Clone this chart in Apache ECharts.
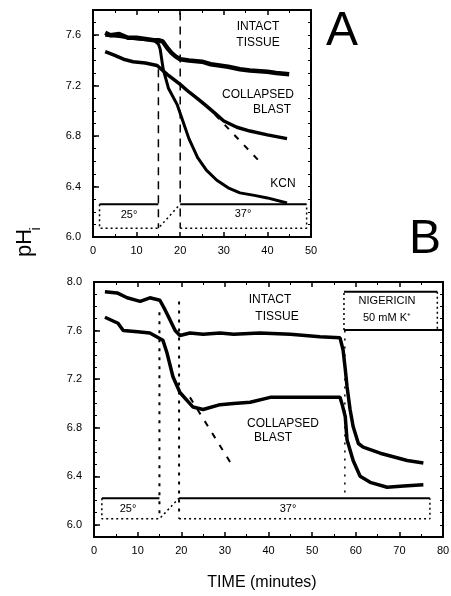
<!DOCTYPE html>
<html><head><meta charset="utf-8">
<script src="https://cdn.jsdelivr.net/npm/echarts@6/dist/echarts.min.js"></script>
<style>html,body{margin:0;padding:0;background:#fff}#c{width:451px;height:596px}</style>
</head><body><div id="c"></div>
<script>
// ---------- Panel A data (time in minutes, pHi) ----------
const aIntact = [[2.8,7.62],[4,7.60],[6,7.61],[8,7.58],[10,7.58],[12,7.57],[14,7.56],[15,7.56],[16,7.55],[17,7.50],[18,7.46],[19,7.43],[20,7.41],[22,7.40],[25,7.39],[27,7.37],[29,7.36],[31,7.35],[33.7,7.33],[36,7.32],[40,7.31],[42,7.30],[45,7.29]];
const aKcn = [[2.8,7.60],[6,7.59],[10,7.57],[14,7.56],[15,7.53],[15.4,7.49],[16.1,7.33],[17.3,7.18],[19.3,7.05],[20.6,6.92],[22,6.78],[24,6.63],[26,6.53],[28.4,6.45],[31,6.39],[33.7,6.35],[37,6.33],[40,6.31],[44.5,6.27]];
const aCollapsed = [[2.8,7.47],[5,7.44],[7,7.41],[9.2,7.39],[12,7.38],[14.7,7.36],[16,7.32],[17,7.29],[20,7.21],[22,7.15],[23.9,7.10],[26,7.04],[28,6.98],[30,6.92],[33,6.87],[36,6.84],[40,6.81],[44.5,6.78]];
const aExtrap = [[28,6.97],[39,6.57]];
const aGuide15 = [[15,7.33],[15,6.07]];
const aGuide20 = [[20,7.78],[20,6.07]];
const aTempTop = [[1.5,6.26],[15,6.26],null,[20,6.26],[49,6.26]];
const aTempDotted = [[1.5,6.26],[1.5,6.07],[15,6.07],[20,6.26],null,[20,6.07],[49,6.07],[49,6.26]];

// ---------- Panel B data ----------
const bIntact = [[2.5,7.92],[5.3,7.91],[7.6,7.87],[10.6,7.84],[12.8,7.87],[15.1,7.85],[16.3,7.77],[17.4,7.69],[18.6,7.60],[19.7,7.56],[22,7.58],[25,7.57],[28.9,7.58],[32,7.57],[38,7.58],[45,7.57],[51.8,7.55],[56.4,7.54],[57.1,7.44],[57.6,7.28],[58,7.14],[58.7,6.95],[59.4,6.81],[60.6,6.67],[61.7,6.64],[65.6,6.59],[71.8,6.53],[75.5,6.51]];
const bCollapsed = [[2.5,7.71],[5.5,7.66],[6.7,7.60],[10,7.59],[12.8,7.58],[15.8,7.52],[16.7,7.42],[18.1,7.22],[19.7,7.09],[22.7,6.97],[25,6.95],[28.9,6.99],[32,7.00],[35.8,7.01],[40.4,7.05],[47.2,7.05],[56.4,7.05],[56.9,6.99],[57.6,6.89],[58,6.70],[59.4,6.53],[61,6.40],[63.3,6.35],[67.2,6.31],[71,6.32],[75.5,6.33]];
const bExtrap = [[22,7.05],[31.5,6.50]];
const bGuide15 = [[15,7.75],[15,6.05]];
const bGuide19 = [[19.5,7.84],[19.5,6.05]];
const bGuide57 = [[57.5,7.60],[57.5,6.22]];
const bTempTop = [[1.8,6.22],[15,6.22],null,[19.5,6.22],[77,6.22]];
const bTempDotted = [[1.8,6.22],[1.8,6.05],[15,6.05],[19.5,6.22],null,[19.5,6.05],[77,6.05],[77,6.22]];
const bNigBoxSolid = [[57.3,7.92],[78.7,7.92],null,[57.3,7.605],[80,7.605]];
const bNigBoxDotted = [[57.3,7.605],[57.3,7.92],null,[78.7,7.92],[78.7,7.605]];

// ---------- Axis ticks ----------
const aYLabels = [6.0,6.4,6.8,7.2,7.6];
const bYLabels = [6.0,6.4,6.8,7.2,7.6,8.0];

const FONT = 'Liberation Sans, Arial, sans-serif';
const chart = echarts.init(document.getElementById('c'), null, {renderer:'canvas'});

function line(data, xi, yi, w, type, extra) {
  return Object.assign({type:'line', xAxisIndex:xi, yAxisIndex:yi, data:data, showSymbol:false, symbol:'none',
    connectNulls:false, silent:true, animation:false,
    lineStyle:{color:'#000', width:w, type:type||'solid'}}, extra||{});
}
const axisLineStyle = {show:true, lineStyle:{color:'#000', width:2}};
function xMain(grid, max) {
  return {type:'value', gridIndex:grid, min:0, max:max, interval:10, position:'bottom',
    axisLine:axisLineStyle, splitLine:{show:false},
    axisTick:{show:true, inside:true, length:5, lineStyle:{color:'#000', width:1.5}},
    minorTick:{show:true, splitNumber:2, length:3, lineStyle:{color:'#000', width:1}},
    axisLabel:{color:'#000', fontSize:11, fontFamily:FONT, margin:8}};
}
function xTop(grid, max) {
  return {type:'value', gridIndex:grid, min:0, max:max, interval:10, position:'top',
    axisLine:axisLineStyle, splitLine:{show:false},
    axisTick:{show:true, inside:true, length:5, lineStyle:{color:'#000', width:1.5}},
    minorTick:{show:true, splitNumber:2, length:3, lineStyle:{color:'#000', width:1}},
    axisLabel:{show:false}};
}
function yMain(grid, min, max, labels) {
  return {type:'value', gridIndex:grid, min:min, max:max, position:'left',
    axisLine:axisLineStyle, splitLine:{show:false},
    axisTick:{show:true, inside:true, length:6, customValues:labels, lineStyle:{color:'#000', width:1.5}},
    axisLabel:{color:'#000', fontSize:11, fontFamily:FONT, margin:12, customValues:labels,
      formatter:v=>Number(v).toFixed(1)}};
}
function yMinor(grid, min, max, pos) {
  return {type:'value', gridIndex:grid, min:min, max:max, interval:0.1, position:pos,
    axisLine:axisLineStyle, splitLine:{show:false},
    axisTick:{show:true, inside:true, length:3, lineStyle:{color:'#000', width:1}},
    axisLabel:{show:false}};
}

function txt(t, x, y, size, extra) {
  return Object.assign({type:'text', x:x, y:y, silent:true,
    style:{text:t, fill:'#000', font:(size||11)+'px '+FONT, textAlign:'center', textVerticalAlign:'middle', align:'center', verticalAlign:'middle'}}, extra||{});
}

const option = {
  animation:false,
  backgroundColor:'#fff',
  grid:[
    {left:93, top:10, width:218, height:227, containLabel:false, outerBoundsMode:'none'},
    {left:94, top:282, width:349, height:255, containLabel:false, outerBoundsMode:'none'}
  ],
  xAxis:[xMain(0,50), xTop(0,50), xMain(1,80), xTop(1,80)],
  yAxis:[yMain(0,6.0,7.8,aYLabels), yMinor(0,6.0,7.8,'left'), yMinor(0,6.0,7.8,'right'),
         yMain(1,5.9,8.0,bYLabels), yMinor(1,5.9,8.0,'left'), yMinor(1,5.9,8.0,'right')],
  series:[
    line(aIntact,0,0,4.5),
    line(aKcn,0,0,3),
    line(aCollapsed,0,0,3.5),
    line(aExtrap,0,0,2,[6,8]),
    line(aGuide15,0,0,1.5,[8,6]),
    line(aGuide20,0,0,1.5,[8,6]),
    line(aTempTop,0,0,2),
    line(aTempDotted,0,0,1.5,[2,3]),
    line(bIntact,2,3,3.5),
    line(bCollapsed,2,3,3.5),
    line(bExtrap,2,3,2,[6,8]),
    line(bGuide15,2,3,2,[3,6]),
    line(bGuide19,2,3,2,[3,6]),
    line(bGuide57,2,3,1.5,[2,6]),
    line(bTempTop,2,3,2),
    line(bTempDotted,2,3,1.5,[2,3]),
    line(bNigBoxSolid,2,3,2),
    line(bNigBoxDotted,2,3,1.5,[2,3])
  ],
  graphic:[
    txt('INTACT',258,27,12), txt('TISSUE',258,43,12),
    txt('COLLAPSED',258,95,12), txt('BLAST',272,110,12),
    txt('KCN',283,184,12),
    txt('25°',129,215,11), txt('37°',243,214,11),
    txt('A',342,32,48),
    txt('B',425,240,48),
    txt('INTACT',270,300,12), txt('TISSUE',277,317,12),
    txt('COLLAPSED',283,424,12), txt('BLAST',273,438,12),
    txt('NIGERICIN',387,301,11), txt('50 mM K⁺',387,318,11),
    txt('25°',128,509,11), txt('37°',288,509,11),
    txt('TIME (minutes)',262,583,16),
    txt('pH',25,243,22,{rotation:Math.PI/2}),
    txt('i',36,229,14,{rotation:Math.PI/2})
  ]
};
chart.setOption(option);
</script></body></html>
